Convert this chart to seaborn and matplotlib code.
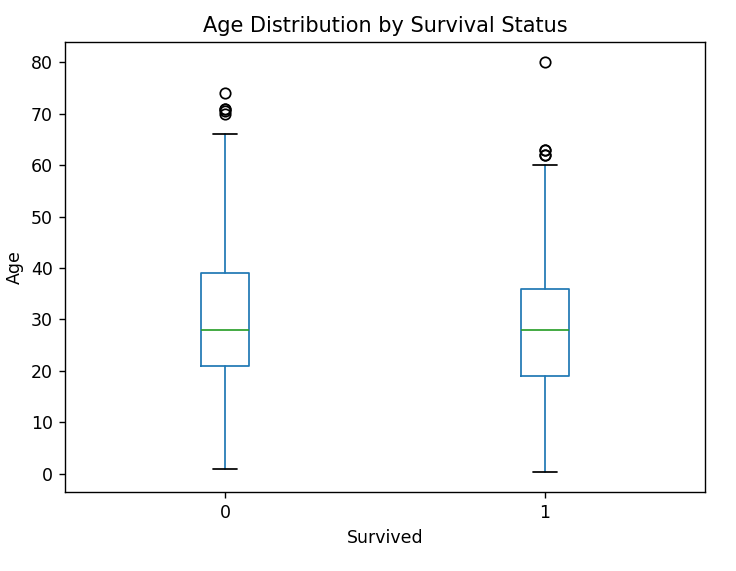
import matplotlib
matplotlib.use('Agg')
import matplotlib.pyplot as plt
import seaborn as sns

# box summary per survival group
groups = ['0', '1']
whisker_low = [1.0, 0.42]
q1 = [21.0, 19.0]
median = [28.0, 28.0]
q3 = [39.0, 36.0]
whisker_high = [66.0, 60.0]
outliers = [[70.0, 70.5, 71.0, 71.0, 74.0], [62.0, 62.0, 63.0, 63.0, 80.0]]

sns.set_theme(style='ticks', rc={
    'axes.edgecolor': 'black', 'axes.linewidth': 0.8,
    'text.color': 'black', 'axes.labelcolor': 'black',
    'xtick.color': 'black', 'ytick.color': 'black',
    'xtick.major.size': 3.5, 'ytick.major.size': 3.5,
    'xtick.major.width': 0.8, 'ytick.major.width': 0.8,
    'font.size': 10, 'axes.labelsize': 10, 'axes.titlesize': 12,
    'xtick.labelsize': 10, 'ytick.labelsize': 10,
})
plt.rcParams['font.family'] = ['DejaVu Sans']

stats = []
for i, g in enumerate(groups):
    stats.append(dict(label=g, whislo=whisker_low[i], q1=q1[i], med=median[i],
                      q3=q3[i], whishi=whisker_high[i], fliers=outliers[i]))

# the reference looks like a default pandas box plot rendered at ~125 dpi
dpi = 125
fig = plt.figure(figsize=(736 / dpi, 571 / dpi), dpi=dpi)
ax = fig.add_axes([0.0883, 0.1384, 0.8697, 0.788])
blue = '#1f77b4'
ax.bxp(stats, widths=0.15,
       boxprops=dict(color=blue),
       whiskerprops=dict(color=blue),
       capprops=dict(color='black'),
       medianprops=dict(color='#2ca02c'),
       flierprops=dict(marker='o', markerfacecolor='none',
                       markeredgecolor='black', markersize=6))
ax.set_xlim(0.5, 2.5)
ax.set_title('Age Distribution by Survival Status')
ax.set_xlabel('Survived')
ax.set_ylabel('Age')

plt.savefig('out.png', dpi=dpi)
